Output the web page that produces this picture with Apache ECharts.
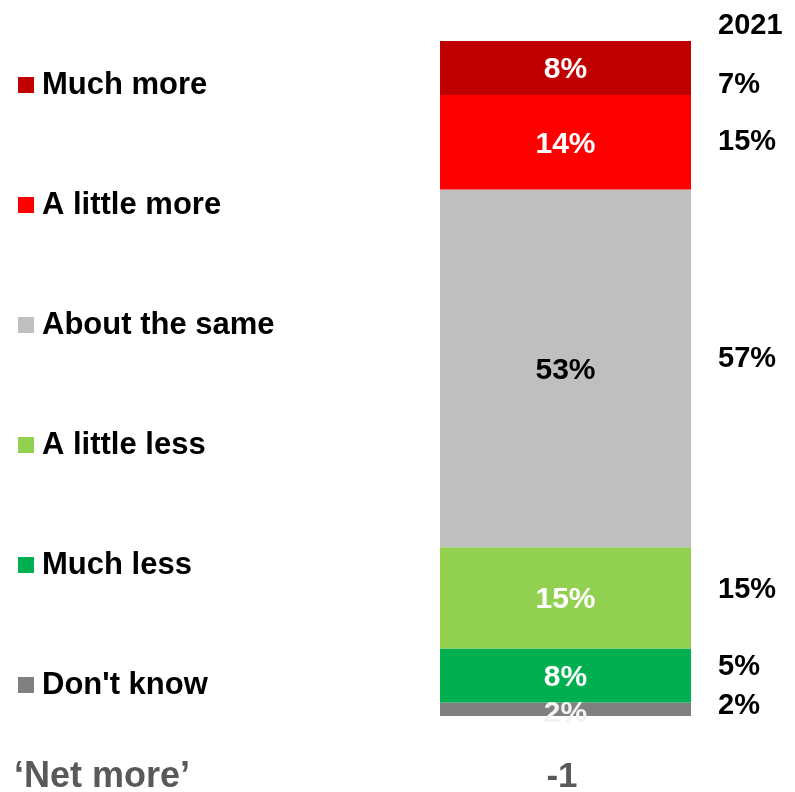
<!DOCTYPE html>
<html>
<head>
<meta charset="utf-8">
<script src="https://cdn.jsdelivr.net/npm/echarts@6/dist/echarts.min.js"></script>
<style>
  html, body { margin: 0; padding: 0; background: #fff; }
  #chart { width: 795px; height: 792px; }
</style>
</head>
<body>
<div id="chart"></div>
<script>
// Responses, listed top of the stack first
const categories = ['Much more', 'A little more', 'About the same', 'A little less', 'Much less', "Don't know"];
const current = [8, 14, 53, 15, 8, 2];
const previous = [7, 15, 57, 15, 5, 2];
const previousYear = '2021';
const netLabel = '\u2018Net more\u2019';
const netValue = -1;

const colors = ['#C00000', '#FF0000', '#BFBFBF', '#92D050', '#00B050', '#808080'];
const labelColors = ['#FFFFFF', '#FFFFFF', '#000000', '#FFFFFF', '#FFFFFF', '#F2F2F2'];
const FONT = 'Liberation Sans, Arial, sans-serif';

const chart = echarts.init(document.getElementById('chart'));

// ECharts stacks the first series at the bottom, so build them in reverse
const series = categories.map((name, i) => ({
  name,
  type: 'bar',
  stack: 'total',
  barWidth: '100%',
  data: [current[i]],
  itemStyle: { color: colors[i] },
  label: {
    show: true,
    position: 'inside',
    formatter: '{c}%',
    color: labelColors[i],
    fontFamily: FONT,
    fontWeight: 'bold',
    fontSize: 30,
    offset: i === 5 ? [0, 4] : [0, 2]
  }
})).reverse();

// 2021 comparison column (row positions chosen to keep labels apart)
const prevRowsY = [85, 142, 359, 590, 667, 706];
const textStyle = (text, size, fill, align) => ({
  text, fontFamily: FONT, fontWeight: 'bold', fontSize: size, fill,
  textAlign: align || 'left', textVerticalAlign: 'middle'
});
const graphics = [
  { type: 'text', x: 718, y: 26, style: textStyle(previousYear, 29, '#000') }
];
previous.forEach((v, i) => {
  graphics.push({ type: 'text', x: 718, y: prevRowsY[i], style: textStyle(v + '%', 29, '#000') });
});
graphics.push({ type: 'text', x: 14, y: 777, style: textStyle(netLabel, 36, '#595959') });
graphics.push({ type: 'text', x: 562, y: 777, style: textStyle(String(netValue), 35, '#595959', 'center') });

chart.setOption({
  animation: false,
  grid: { left: 440, right: 104, top: 41, bottom: 76 },
  xAxis: { type: 'category', data: [''], show: false },
  yAxis: { type: 'value', min: 0, max: 100, show: false },
  legend: {
    orient: 'vertical',
    left: 18,
    top: 69,
    padding: 0,
    data: categories,
    icon: 'rect',
    itemWidth: 16,
    itemHeight: 16,
    itemGap: 88,
    selectedMode: false,
    textStyle: { fontFamily: FONT, fontWeight: 'bold', fontSize: 31, lineHeight: 32, color: '#000', padding: [0, 0, 0, 3] }
  },
  series,
  graphic: graphics
});
</script>
</body>
</html>
